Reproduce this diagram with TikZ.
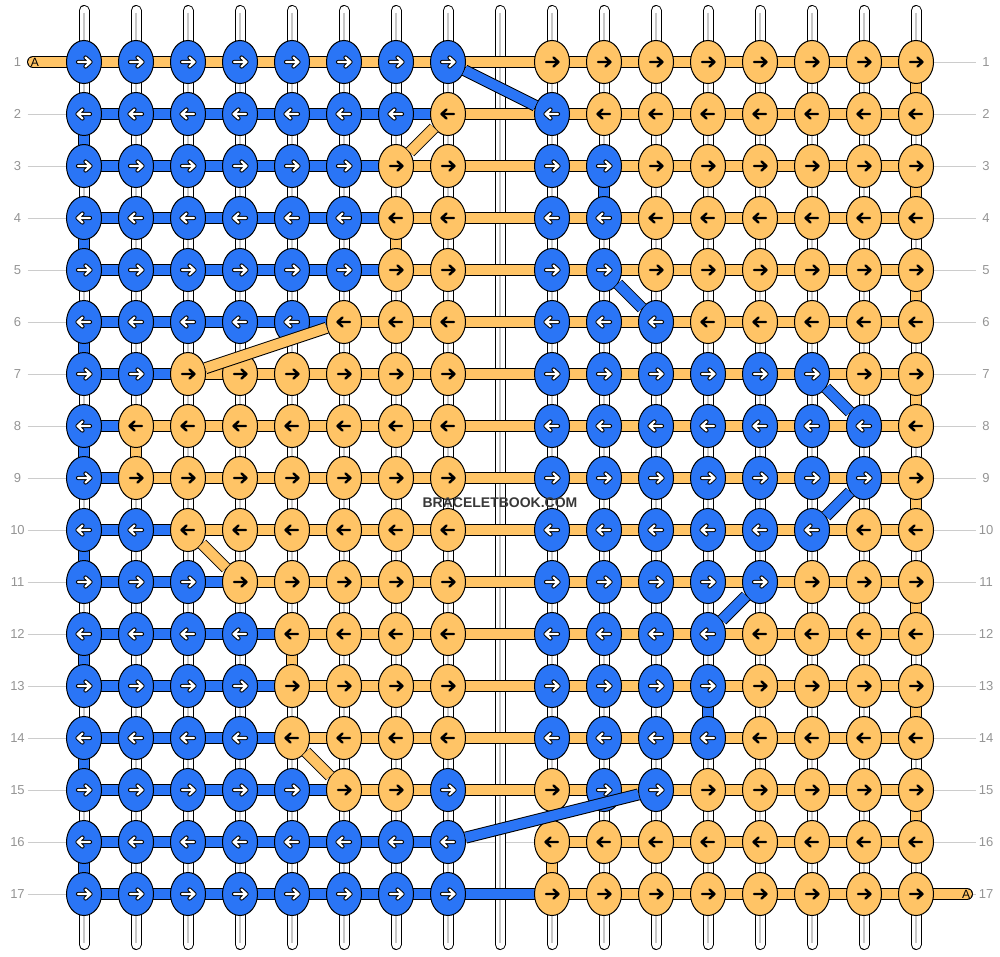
\documentclass[tikz,border=0pt]{standalone}
\usepackage{fontspec}
\setmainfont{Liberation Sans}
\usetikzlibrary{shapes.geometric}
\definecolor{kblue}{RGB}{42,117,246}
\definecolor{korange}{RGB}{255,196,102}
\tikzset{
  knot/.style={ellipse, draw=black, line width=1pt, minimum width=35pt, minimum height=43pt, inner sep=0pt},
  arrowline/.style={shift={(path picture bounding box.center)}, line cap=round, line join=round},
  knotB/.style={knot, fill=kblue, path picture={
      \draw[arrowline, black, line width=4.2pt] ({-6*\kdir},0) -- ({6*\kdir},0)
        ({1.5*\kdir},-4.5) -- ({6.5*\kdir},0) -- ({1.5*\kdir},4.5);
      \draw[arrowline, white, line width=2.2pt] ({-6*\kdir},0) -- ({6*\kdir},0)
        ({1.5*\kdir},-4.5) -- ({6.5*\kdir},0) -- ({1.5*\kdir},4.5);}},
  knotO/.style={knot, fill=korange, path picture={
      \draw[arrowline, black, line width=2.4pt] ({-6*\kdir},0) -- ({6*\kdir},0)
        ({1.5*\kdir},-4.5) -- ({6.5*\kdir},0) -- ({1.5*\kdir},4.5);}},
  bar/.style={draw=black, line width=1pt, double=#1, double distance=10pt},
  barB/.style={bar=kblue},
  barO/.style={bar=korange},
  vstring/.style={draw=black, line width=1pt, double=white, double distance=9pt, line cap=round},
  vcore/.style={draw=black!22, line width=1.2pt, shorten <=2pt, shorten >=2pt},
  rowline/.style={draw=black!20, line width=1pt},
  lbl/.style={text=black!42, font=\fontsize{13}{15}\selectfont, minimum width=20pt, inner sep=0pt},
  tabtxt/.style={font=\fontsize{12}{14}\selectfont, inner sep=0pt},
  wm/.style={text=black!78, font=\bfseries\fontsize{14}{16}\selectfont, inner sep=1pt}
}
% one row of knots: row number, colours of the 16 knots
\newcommand\knotrow[2]{%
  \ifodd#1 \def\kdir{1}\else\def\kdir{-1}\fi
  \foreach \k [count=\i] in {#2}{%
    \pgfmathtruncatemacro\kc{\i<9 ? \i : \i+1}%
    \node[knot\k] (k-#1-\i) at (p-#1-\kc) {};
  }%
}
% one row of working threads: row number, colours of the 15 pieces (N = none)
\newcommand\barrow[2]{%
  \foreach \k [count=\i] in {#2}{%
    \if\k N\else
      \pgfmathtruncatemacro\ka{\i<9 ? \i : \i+1}%
      \pgfmathtruncatemacro\kb{\i<8 ? \i+1 : \i+2}%
      \draw[bar\k] (p-#1-\ka) -- (p-#1-\kb);
    \fi
  }%
}
\begin{document}
\begin{tikzpicture}[x=1pt, y=-1pt]
\useasboundingbox (0,0) rectangle (1000,956);
\foreach \r in {1,...,17}
  \foreach \kc in {1,...,17}
    \coordinate (p-\r-\kc) at ({84+52*(\kc-1)},{62+52*(\r-1)});
\foreach \r in {1,...,17} {
  \node[lbl] (ll-\r) at (17.5,{62+52*(\r-1)}) {\r};
  \node[lbl] (lr-\r) at (986,{62+52*(\r-1)}) {\r};
  \draw[rowline] (ll-\r) -- (lr-\r);
}
\foreach \kc in {1,...,17} {
  \coordinate (t-\kc) at ({84+52*(\kc-1)},10.5);
  \coordinate (b-\kc) at ({84+52*(\kc-1)},944.5);
  \draw[vstring] (t-\kc) -- (b-\kc);
  \draw[vcore] (t-\kc) -- (b-\kc);
}
\foreach \r/\i/\col in {1/16/O, 2/1/B, 3/10/B, 3/16/O, 4/1/B, 4/7/O, 5/16/O, 6/1/B,
    7/16/O, 8/1/B, 8/2/O, 9/16/O, 10/1/B, 11/16/O, 12/1/B, 12/5/O, 13/12/B,
    13/16/O, 14/1/B, 15/16/O, 16/1/B, 16/9/O} {
  \pgfmathtruncatemacro\rn{\r+1}
  \pgfmathtruncatemacro\kc{\i<9 ? \i : \i+1}
  \draw[bar\col] (p-\r-\kc) -- (p-\rn-\kc);
}
\barrow{1}{O,O,O,O,O,O,O,O,O,O,O,O,O,O,O}
\barrow{2}{B,B,B,B,B,B,B,O,O,O,O,O,O,O,O}
\barrow{3}{B,B,B,B,B,B,O,O,O,O,O,O,O,O,O}
\barrow{4}{B,B,B,B,B,B,O,O,O,O,O,O,O,O,O}
\barrow{5}{B,B,B,B,B,B,O,O,O,O,O,O,O,O,O}
\barrow{6}{B,B,B,B,B,O,O,O,O,O,O,O,O,O,O}
\barrow{7}{B,B,O,O,O,O,O,O,O,O,O,O,O,O,O}
\barrow{8}{B,O,O,O,O,O,O,O,O,O,O,O,O,O,O}
\barrow{9}{B,O,O,O,O,O,O,O,O,O,O,O,O,O,O}
\barrow{10}{B,B,O,O,O,O,O,O,O,O,O,O,O,O,O}
\barrow{11}{B,B,B,O,O,O,O,O,O,O,O,O,O,O,O}
\barrow{12}{B,B,B,B,O,O,O,O,O,O,O,O,O,O,O}
\barrow{13}{B,B,B,B,O,O,O,O,O,O,O,O,O,O,O}
\barrow{14}{B,B,B,B,O,O,O,O,O,O,O,O,O,O,O}
\barrow{15}{B,B,B,B,B,O,O,O,O,O,O,O,O,O,O}
\barrow{16}{B,B,B,B,B,B,B,N,O,O,O,O,O,O,O}
\barrow{17}{B,B,B,B,B,B,B,B,O,O,O,O,O,O,O}
\coordinate (tabL) at (33,62);
\coordinate (tabR) at (967,894);
\draw[barO, line cap=round] (tabL) -- (p-1-1);
\draw[barO, line cap=round] (p-17-17) -- (tabR);
\knotrow{1}{B,B,B,B,B,B,B,B,O,O,O,O,O,O,O,O}
\knotrow{2}{B,B,B,B,B,B,B,O,B,O,O,O,O,O,O,O}
\knotrow{3}{B,B,B,B,B,B,O,O,B,B,O,O,O,O,O,O}
\knotrow{4}{B,B,B,B,B,B,O,O,B,B,O,O,O,O,O,O}
\knotrow{5}{B,B,B,B,B,B,O,O,B,B,O,O,O,O,O,O}
\knotrow{6}{B,B,B,B,B,O,O,O,B,B,B,O,O,O,O,O}
\knotrow{7}{B,B,O,O,O,O,O,O,B,B,B,B,B,B,O,O}
\knotrow{8}{B,O,O,O,O,O,O,O,B,B,B,B,B,B,B,O}
\knotrow{9}{B,O,O,O,O,O,O,O,B,B,B,B,B,B,B,O}
\knotrow{10}{B,B,O,O,O,O,O,O,B,B,B,B,B,B,O,O}
\knotrow{11}{B,B,B,O,O,O,O,O,B,B,B,B,B,O,O,O}
\knotrow{12}{B,B,B,B,O,O,O,O,B,B,B,B,O,O,O,O}
\knotrow{13}{B,B,B,B,O,O,O,O,B,B,B,B,O,O,O,O}
\knotrow{14}{B,B,B,B,O,O,O,O,B,B,B,B,O,O,O,O}
\knotrow{15}{B,B,B,B,B,O,O,B,O,B,B,O,O,O,O,O}
\knotrow{16}{B,B,B,B,B,B,B,B,O,O,O,O,O,O,O,O}
\knotrow{17}{B,B,B,B,B,B,B,B,O,O,O,O,O,O,O,O}
\foreach \ra/\ia/\rb/\ib/\col in {1/8/2/9/B, 2/8/3/7/O, 5/10/6/11/B, 6/6/7/3/O,
    7/14/8/15/B, 9/15/10/14/B, 10/3/11/4/O, 11/13/12/12/B, 14/5/15/6/O, 16/8/15/11/B}
  \draw[bar\col] (k-\ra-\ia) -- (k-\rb-\ib);
\node[tabtxt] (tA) at (35,62) {A};
\node[tabtxt] (tB) at (966,894) {A};
\node[wm] (wm) at (500,503) {BRACELETBOOK.COM};
\end{tikzpicture}
\end{document}
